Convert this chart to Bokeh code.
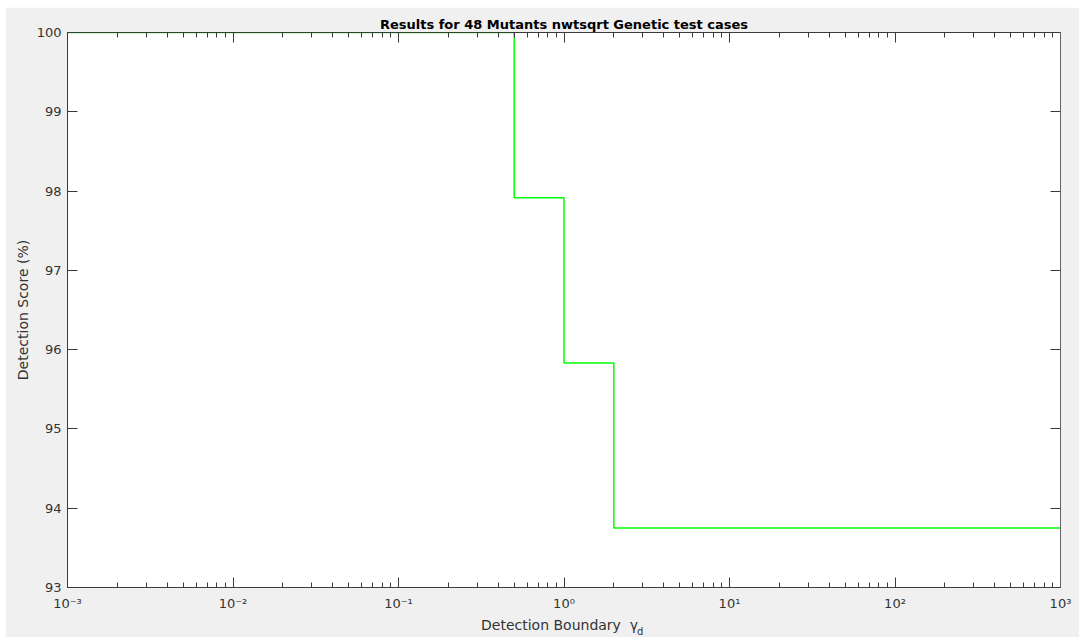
from bokeh.plotting import figure
from bokeh.models import (Range1d, LogAxis, LinearAxis, FixedTicker, Label,
                          CustomJSTickFormatter)
from bokeh.embed import file_html
from bokeh.resources import INLINE

# ---- data ----
title_text = "Results for 48 Mutants nwtsqrt Genetic test cases"
x_label = "Detection Boundary\u00a0\u00a0γ\u00a0\u00a0"
x_label_sub = "d"
y_label = "Detection Score (%)"
boundary = [0.001, 0.5, 1.0, 2.0, 1000.0]          # detection boundary gamma_d
score = [100.0, 97.917, 95.833, 93.75, 93.75]       # detection score (%)
x_exponents = [-3, -2, -1, 0, 1, 2, 3]
y_ticks = [93, 94, 95, 96, 97, 98, 99, 100]

FONT = "DejaVu Sans"
AX = "#3a3a3a"
TXT = "#333333"

x_major = [10.0 ** e for e in x_exponents]
x_minor = [k * 10.0 ** e for e in x_exponents[:-1] for k in range(2, 10)]

p = figure(width=1074, height=630, x_axis_type="log",
           x_range=Range1d(x_major[0], x_major[-1]),
           y_range=Range1d(y_ticks[0], y_ticks[-1]),
           output_backend="svg", toolbar_location=None,
           min_border_left=60, min_border_right=19,
           min_border_top=25, min_border_bottom=50)
p.margin = (7, 5, 0, 5)
p.background_fill_color = "white"
p.border_fill_color = "#f0f0f0"
p.outline_line_color = None
p.grid.visible = False

p.title.text = title_text
p.title.align = "center"
p.title.text_font = FONT
p.title.text_font_size = "13px"
p.title.text_font_style = "bold"
p.title.text_color = "black"
p.title.standoff = 1

blank = CustomJSTickFormatter(code="return ''")
pow_fmt = CustomJSTickFormatter(code="""
const sup = {"-": "\u207b", "0": "\u2070", "1": "\u00b9", "2": "\u00b2", "3": "\u00b3",
             "4": "\u2074", "5": "\u2075", "6": "\u2076", "7": "\u2077", "8": "\u2078", "9": "\u2079"};
const e = Math.round(Math.log10(tick));
return "10" + String(e).split("").map((c) => sup[c]).join("");
""")

def style_common(ax):
    ax.major_tick_in = 10
    ax.major_tick_out = 0
    ax.minor_tick_in = 5
    ax.minor_tick_out = 0
    ax.axis_line_color = AX
    ax.major_tick_line_color = AX
    ax.minor_tick_line_color = AX

def hide_labels(ax):
    ax.formatter = blank
    ax.major_label_text_font_size = "0px"
    ax.major_label_standoff = 0

# bottom x axis
xb = p.xaxis[0]
style_common(xb)
xb.ticker = FixedTicker(ticks=x_major, minor_ticks=x_minor)
xb.formatter = pow_fmt
xb.major_label_text_font = FONT
xb.major_label_text_font_size = "13px"
xb.major_label_text_color = TXT
xb.major_label_standoff = 8
xb.axis_label = x_label
xb.axis_label_text_font = FONT
xb.axis_label_text_font_size = "14px"
xb.axis_label_text_font_style = "normal"
xb.axis_label_text_color = TXT
xb.axis_label_standoff = 3

# left y axis
yl = p.yaxis[0]
style_common(yl)
yl.ticker = FixedTicker(ticks=y_ticks)
yl.minor_tick_line_color = None
yl.major_label_text_font = FONT
yl.major_label_text_font_size = "13px"
yl.major_label_text_color = TXT
yl.major_label_standoff = 6
yl.axis_label = y_label
yl.axis_label_text_font = FONT
yl.axis_label_text_font_size = "14px"
yl.axis_label_text_font_style = "normal"
yl.axis_label_text_color = TXT
yl.axis_label_standoff = 3

# top and right box axes
top = LogAxis(ticker=FixedTicker(ticks=x_major, minor_ticks=x_minor))
style_common(top)
hide_labels(top)
p.add_layout(top, "above")
right = LinearAxis(ticker=FixedTicker(ticks=y_ticks))
style_common(right)
right.minor_tick_line_color = None
right.axis_line_color = "#666666"
hide_labels(right)
p.add_layout(right, "right")

p.step(x=boundary, y=score, mode="after", line_color="#00ff00", line_width=1.5)

# subscript of gamma_d (placed in the left side panel so it is not clipped)
sub = Label(x=1.0, y=y_ticks[0], text=x_label_sub, text_align="left",
            text_baseline="alphabetic", x_offset=73, y_offset=-44,
            text_font=FONT, text_font_size="10px", text_color=TXT)
p.add_layout(sub, "left")

open("out.html", "w").write(file_html(p, INLINE))
